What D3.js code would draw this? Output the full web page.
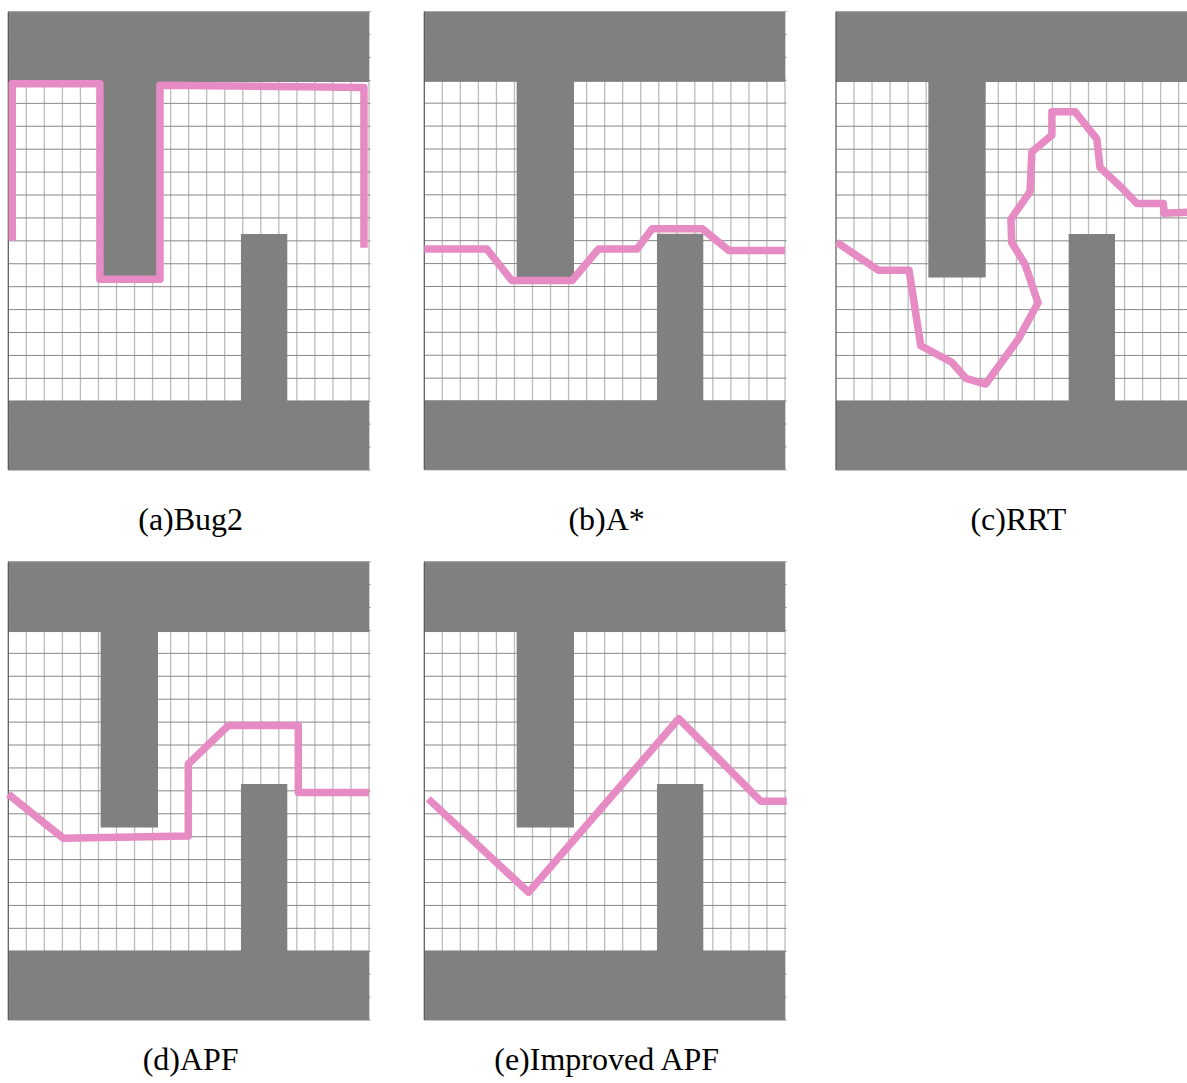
<!DOCTYPE html>
<html><head><meta charset="utf-8">
<script src="https://cdn.jsdelivr.net/npm/d3@7"></script>
<style>body{margin:0;background:#fff;overflow:hidden}</style>
</head><body><svg id="c" width="1187" height="1083"></svg>
<script>
// ---- data (grid units: columns 0..20 left→right, rows 0..20 top→bottom) ----
const panelLabels = ["(a)Bug2", "(b)A*", "(c)RRT", "(d)APF", "(e)Improved APF"];
const gridCols = d3.range(0, 21);
const gridRows = d3.range(0, 21);
const obstacleTop    = [0, 20, 0, 3.07];     // x0, x1, y0, y1
const obstacleBottom = [0, 20, 16.97, 20];
const obstacleStem   = [5.12, 8.3, 3, 11.6];
const obstaclePillar = [12.9, 15.47, 9.7, 17];
const bug2Path = [[0.22,10.0],[0.22,3.14],[5.08,3.14],[5.08,11.68],[8.41,11.68],[8.41,3.21],[19.72,3.31],[19.72,10.3]];
const aStarPath = [[0,10.36],[3.46,10.36],[4.85,11.74],[8.19,11.74],[9.67,10.36],[11.8,10.36],[12.63,9.48],[15.41,9.48],[16.89,10.43],[20,10.43]];
const rrtPath = [[0.05,10.07],[2.35,11.28],[4.05,11.28],[4.7,14.58],[6.42,15.3],[7.2,16.0],[8.3,16.25],[10.1,14.3],[11.2,12.7],[10.48,11.02],[9.74,10.07],[9.7,9.05],[10.76,7.85],[10.86,6.12],[11.97,5.39],[11.97,4.37],[13.26,4.37],[14.46,5.55],[14.64,6.8],[15.8,7.65],[16.68,8.37],[18.15,8.37],[18.2,8.8],[20,8.73]];
const apfPath = [[0,10.15],[3.05,12.07],[9.98,11.97],[9.98,8.83],[12.2,7.15],[16.08,7.15],[16.08,10.07],[20,10.07]];
const improvedApfPath = [[0.22,10.35],[5.78,14.43],[14.11,6.85],[18.65,10.45],[20.1,10.45]];

// ---- layout ----
const panels = [
  {x:8.3,   y:11.7, path:bug2Path},
  {x:424.3, y:11.5, path:aStarPath},
  {x:836,   y:11.7, path:rrtPath},
  {x:8.3,   y:561.7, path:apfPath},
  {x:424.3, y:561.7, path:improvedApfPath}
];
const PW = 360.7, PH = 458.3;
const obstacles = [obstacleTop, obstacleBottom, obstacleStem, obstaclePillar];

const svg = d3.select("#c");
svg.append("rect").attr("width",1187).attr("height",1083).attr("fill","#fff");

panels.forEach((p, i) => {
  const x = d3.scaleLinear().domain([0,20]).range([p.x, p.x+PW]);
  const y = d3.scaleLinear().domain([0,20]).range([p.y, p.y+PH]);
  const g = svg.append("g");
  // vertical grid lines
  g.selectAll("line.v").data(gridCols.slice(1)).join("line")
    .attr("x1", d=>x(d)).attr("x2", d=>x(d))
    .attr("y1", y(0)).attr("y2", y(20))
    .attr("stroke", "#bcbcbc").attr("stroke-width", 1.3);
  // horizontal grid lines
  g.selectAll("line.h").data(gridRows).join("line")
    .attr("x1", x(0)).attr("x2", x(20)+1.5)
    .attr("y1", d=>y(d)).attr("y2", d=>y(d))
    .attr("stroke", "#888").attr("stroke-width", 1);
  // obstacles
  g.selectAll("rect.o").data(obstacles).join("rect")
    .attr("x", d=>x(d[0])).attr("width", d=>x(d[1])-x(d[0]))
    .attr("y", d=>y(d[2])).attr("height", d=>y(d[3])-y(d[2]))
    .attr("fill", "#808080");
  // top edge
  g.append("line").attr("x1", x(0)).attr("x2", x(20)+1.5).attr("y1", y(0)).attr("y2", y(0))
    .attr("stroke", "#a8a8a8").attr("stroke-width", 1);
  // left edge
  g.append("line").attr("x1", x(0)).attr("x2", x(0)).attr("y1", y(0)).attr("y2", y(20))
    .attr("stroke", "#555").attr("stroke-width", 1.2);
  // path
  const line = d3.line().x(d=>x(d[0])).y(d=>y(d[1]));
  g.append("path").attr("d", line(p.path))
    .attr("fill","none").attr("stroke","#e78bc4").attr("stroke-width",7.5)
    .attr("stroke-linejoin","round").attr("stroke-linecap","butt");
  // label
  svg.append("text").attr("x", p.x + PW/2 + 2).attr("y", i < 3 ? 530 : 1070)
    .attr("text-anchor","middle")
    .attr("font-family","'Liberation Serif', 'Times New Roman', serif")
    .attr("font-size", 32).attr("fill","#000")
    .text(panelLabels[i]);
});
</script>
</body></html>
